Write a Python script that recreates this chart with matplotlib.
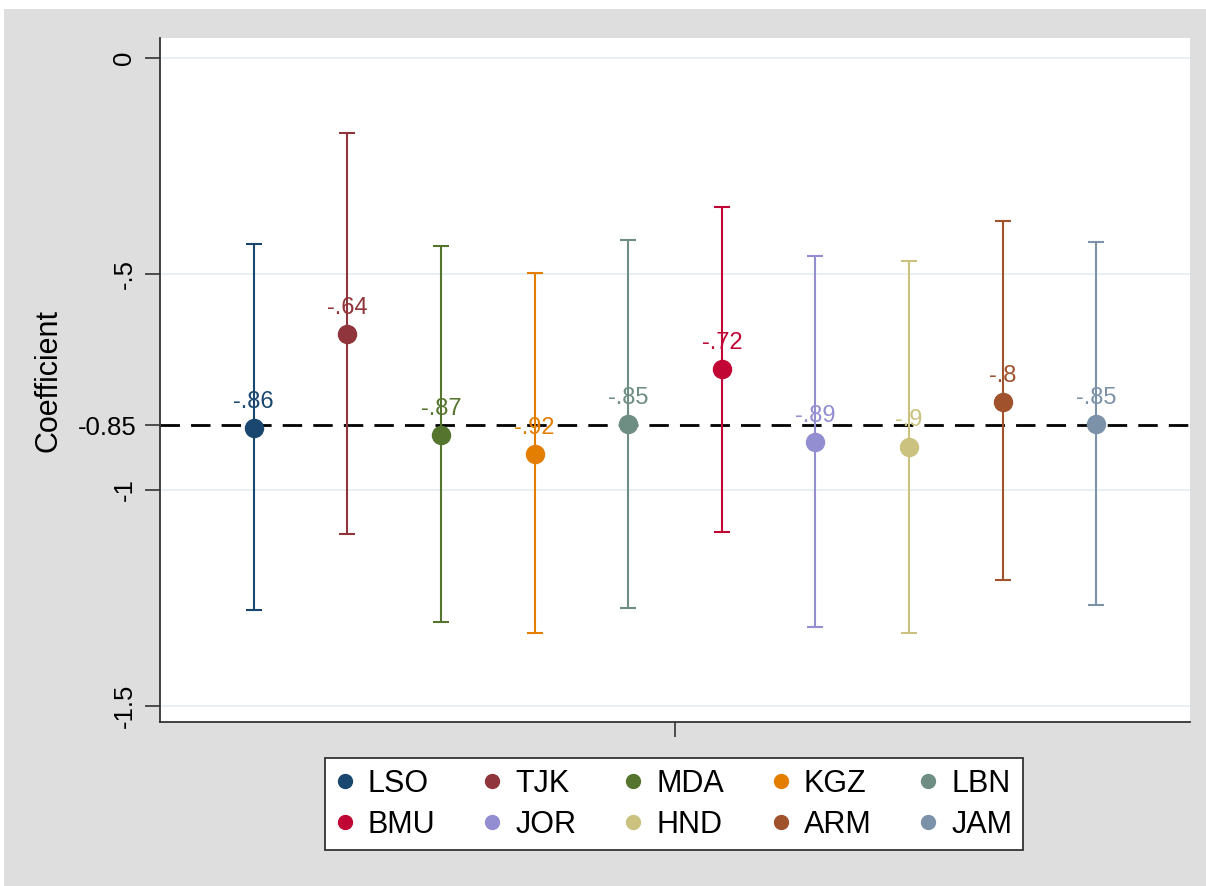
import matplotlib
matplotlib.use('Agg')
import numpy as np
import matplotlib.pyplot as plt
from matplotlib.patches import Rectangle
from matplotlib.lines import Line2D

plt.rcParams['font.family'] = ['Liberation Sans', 'DejaVu Sans']

countries = ['LSO', 'TJK', 'MDA', 'KGZ', 'LBN', 'BMU', 'JOR', 'HND', 'ARM', 'JAM']
coef = [-0.857, -0.639, -0.873, -0.917, -0.848, -0.720, -0.889, -0.900, -0.796, -0.848]
ci_low = [-1.278, -1.102, -1.306, -1.331, -1.273, -1.097, -1.317, -1.331, -1.208, -1.266]
ci_high = [-0.431, -0.174, -0.435, -0.498, -0.421, -0.345, -0.458, -0.470, -0.377, -0.426]
point_labels = ['-.86', '-.64', '-.87', '-.92', '-.85', '-.72', '-.89', '-.9', '-.8', '-.85']
ref_value = -0.85

# stata s2color palette
colors = ['#1a476f', '#90353b', '#55752f', '#e37e00', '#6e8e84',
          '#c10534', '#938dd2', '#cac27e', '#a0522d', '#7b92a8']

fig = plt.figure(figsize=(12.06, 8.86), dpi=100)
fig.patch.set_facecolor('white')
# grey graph region (screenshot leaves a thin white edge top/left)
bg = Rectangle((4 / 1206, 0), 1, 1 - 9 / 886, transform=fig.transFigure,
               facecolor='#dedede', edgecolor='none', zorder=-10)
fig.add_artist(bg)

ax = fig.add_axes([160 / 1206, 1 - 722 / 886, 1030 / 1206, 684 / 886])
ax.set_facecolor('white')

x = np.arange(1, len(countries) + 1)
handles = []
for i, c in enumerate(countries):
    err = [[coef[i] - ci_low[i]], [ci_high[i] - coef[i]]]
    ax.errorbar(x[i], coef[i], yerr=err, fmt='none', ecolor=colors[i],
                elinewidth=1.5, capsize=6, capthick=1.5, zorder=3)
    ax.plot(x[i], coef[i], 'o', color=colors[i], markersize=13, zorder=4)
    ax.annotate(point_labels[i], (x[i], coef[i]), xytext=(0, 11), textcoords='offset points',
                ha='center', va='bottom', color=colors[i], fontsize=17, zorder=5)
    handles.append(Line2D([], [], linestyle='none', marker='o', markersize=10,
                          color=colors[i], label=c))

ax.axhline(ref_value, color='black', linestyle=(0, (7, 4)), linewidth=2, zorder=2)

yticks = [0, -0.5, -1, -1.5]
for yt in yticks:
    ax.axhline(yt, color='#e3eef0', linewidth=1.2, zorder=1)

ax.set_xlim(0, 11)
ax.set_ylim(-1.537, 0.046)
ax.set_xticks([5.5])
ax.set_xticklabels([''])
ax.set_yticks([0, -0.5, -0.85, -1, -1.5])
ax.set_yticklabels(['0', '-.5', '-0.85', '-1', '-1.5'], fontsize=18.5)
for lab in ax.get_yticklabels():
    if lab.get_text() != '-0.85':
        lab.set_rotation(90)
        lab.set_va('center')
ax.tick_params(axis='both', direction='out', length=11, width=1.2, color='#333333', pad=6)
ax.set_ylabel('Coefficient', fontsize=22, labelpad=10)

for s in ['top', 'right']:
    ax.spines[s].set_visible(False)
for s in ['left', 'bottom']:
    ax.spines[s].set_linewidth(1.3)
    ax.spines[s].set_color('#333333')

# legend fills column-wise, so interleave to get two rows in series order
order = [j + 5 * r for j in range(5) for r in range(2)]
leg = fig.legend([handles[k] for k in order], [countries[k] for k in order],
                 ncol=5, loc='upper center', bbox_to_anchor=(674 / 1206, 1 - 758 / 886),
                 borderaxespad=0, fontsize=22, frameon=True, fancybox=False,
                 edgecolor='#333333', facecolor='white', framealpha=1,
                 handletextpad=0.45, columnspacing=1.56, handlelength=0.6,
                 borderpad=0.35, labelspacing=0.36)
leg.get_frame().set_linewidth(1.3)

fig.savefig('out.png', dpi=100, facecolor=fig.get_facecolor())
